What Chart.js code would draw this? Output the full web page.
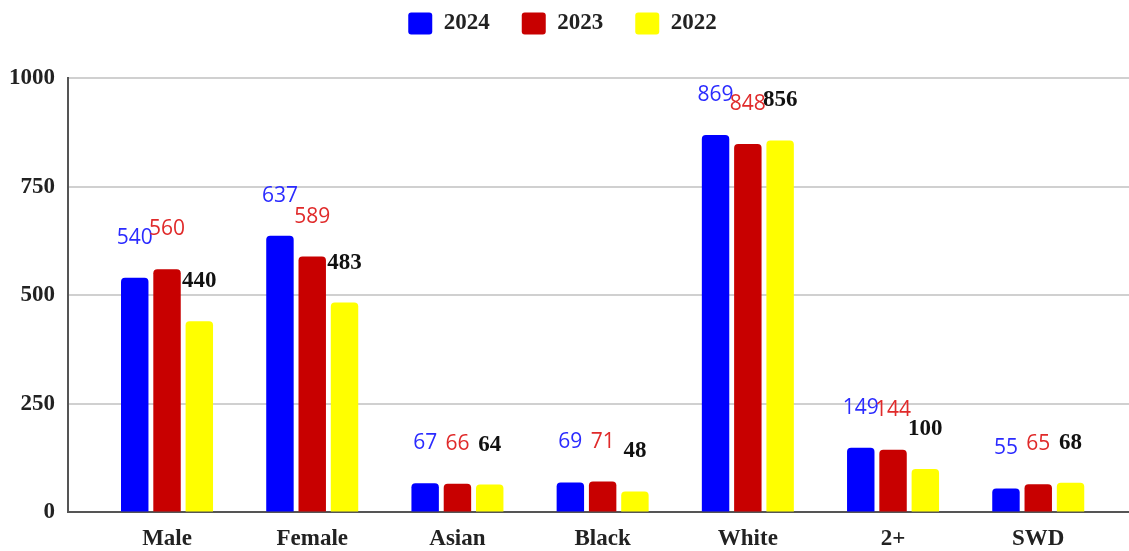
<!DOCTYPE html>
<html>
<head>
<meta charset="utf-8">
<script src="https://cdn.jsdelivr.net/npm/chart.js@4"></script>
<style>
  html, body { margin: 0; padding: 0; background: #fff; }
  #wrap { width: 1129px; height: 551px; position: relative; }
</style>
</head>
<body>
<div id="wrap"><canvas id="enrollChart"></canvas></div>
<script>
const categories = ["Male", "Female", "Asian", "Black", "White", "2+", "SWD"];
const years = ["2024", "2023", "2022"];
const values2024 = [540, 637, 67, 69, 869, 149, 55];
const values2023 = [560, 589, 66, 71, 848, 144, 65];
const values2022 = [440, 483, 64, 48, 856, 100, 68];
const yTicks = [0, 250, 500, 750, 1000];

const serifBold = { family: "'Liberation Serif', 'Times New Roman', serif", size: 23, weight: 'bold' };

// label style for each series' value text
const labelStyles = [
    { color: "#2b2bff", font: "21px 'Open Sans', sans-serif" },
    { color: "#e02a2a", font: "21px 'Open Sans', sans-serif" },
    { color: "#111111", font: "bold 23px 'Liberation Serif', serif" }
];

const toPoints = arr => arr.map((v, i) => ({ x: i, y: v }));

const valueLabels = {
    id: 'valueLabels',
    afterDatasetsDraw(chart) {
        const ctx = chart.ctx;
        ctx.save();
        ctx.textAlign = 'center';
        ctx.textBaseline = 'middle';
        chart.data.datasets.forEach((ds, di) => {
            const meta = chart.getDatasetMeta(di);
            ctx.fillStyle = labelStyles[di].color;
            ctx.font = labelStyles[di].font;
            meta.data.forEach((bar, i) => {
                ctx.fillText(String(ds.data[i].y), bar.x, bar.y - 40);
            });
        });
        ctx.restore();
    }
};

// extra room under the legend row
const legendGap = {
    id: 'legendGap',
    beforeInit(chart) {
        const fit = chart.legend.fit;
        chart.legend.fit = function () {
            fit.call(this);
            this.height += 33;
        };
    }
};

const ctx = document.getElementById('enrollChart').getContext('2d');

new Chart(ctx, {
    type: 'bar',
    data: {
        datasets: [{
            label: years[0],
            data: toPoints(values2024),
            backgroundColor: "#0000ff"
        }, {
            label: years[1],
            data: toPoints(values2023),
            backgroundColor: "#c80000"
        }, {
            label: years[2],
            data: toPoints(values2022),
            backgroundColor: "#ffff00"
        }]
    },
    options: {
        responsive: true,
        maintainAspectRatio: false,
        animation: false,
        layout: {
            padding: { left: -4, right: 0, top: -20, bottom: -7 }
        },
        datasets: {
            bar: {
                categoryPercentage: 0.667,
                barPercentage: 0.85,
                borderRadius: { topLeft: 4, topRight: 4 },
                borderSkipped: 'bottom'
            }
        },
        plugins: {
            legend: {
                position: 'top',
                labels: {
                    boxWidth: 24,
                    boxHeight: 22,
                    useBorderRadius: true,
                    borderRadius: 3,
                    padding: 32,
                    color: "#222",
                    font: serifBold
                }
            },
            tooltip: {
                enabled: false
            }
        },
        scales: {
            x: {
                type: 'linear',
                offset: false,
                min: -0.682,
                max: 6.625,
                afterBuildTicks: scale => {
                    scale.ticks = categories.map((c, i) => ({ value: i }));
                },
                ticks: {
                    autoSkip: false,
                    maxRotation: 0,
                    padding: 5,
                    color: "#222",
                    font: serifBold,
                    callback: v => categories[v]
                },
                grid: {
                    display: false
                },
                border: {
                    color: "#555",
                    width: 2
                }
            },
            y: {
                min: 0,
                max: 1000,
                afterBuildTicks: scale => {
                    scale.ticks = yTicks.map(v => ({ value: v }));
                },
                ticks: {
                    padding: 13,
                    color: "#222",
                    font: serifBold,
                    callback: v => String(v)
                },
                grid: {
                    color: "#d0d0d0",
                    lineWidth: 2,
                    drawTicks: false
                },
                border: {
                    color: "#555",
                    width: 2
                }
            }
        }
    },
    plugins: [valueLabels, legendGap]
});
</script>
</body>
</html>
